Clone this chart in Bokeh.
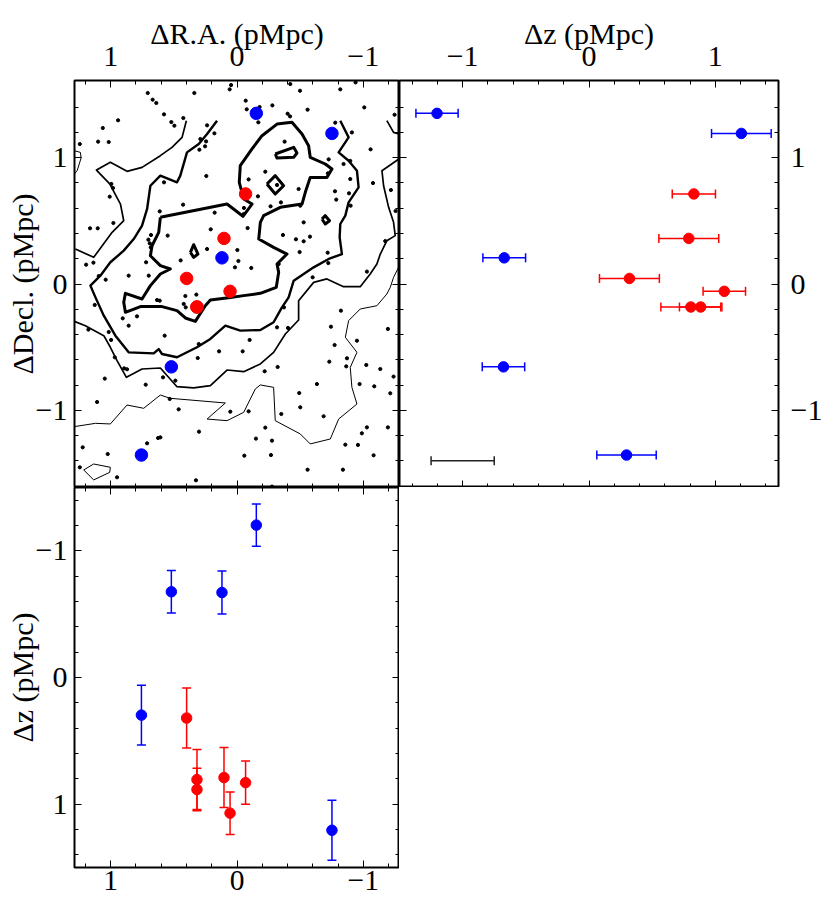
import math
from bokeh.plotting import figure
from bokeh.models import Range1d, LinearAxis, FixedTicker
from bokeh.layouts import row, column
from bokeh.embed import file_html
from bokeh.resources import INLINE

# ---------------- data ----------------
# cluster members: offsets in pMpc
member_ra = [-0.153, -0.752, 0.119, 0.520, 0.757, -0.068, 0.103, 0.399, 0.055, 0.317, 0.317]
member_dec = [1.351, 1.192, 0.207, -0.656, -1.354, 0.713, 0.361, 0.044, -0.058, -0.182, -0.182]
member_dz = [-1.203, 1.206, -0.671, -0.677, 0.297, 0.830, 0.790, 0.320, 1.071, 0.806, 0.884]
member_dz_err = [0.167, 0.236, 0.169, 0.168, 0.235, 0.171, 0.237, 0.237, 0.168, 0.237, 0.168]
member_color = ["#0000ff", "#0000ff", "#0000ff", "#0000ff", "#0000ff",
                "#ff0000", "#ff0000", "#ff0000", "#ff0000", "#ff0000", "#ff0000"]

# typical (reference) error bar shown in the Δz–ΔDecl. panel
typical_dz = [-1.0]
typical_dz_err = [0.25]
typical_dec = [-1.40]

# background field galaxies
dots_ra = [
    0.047, 0.058, -0.422, -0.939, 0.707, 0.668, 0.639, 0.338, -0.499, -0.818,
    -0.069, -0.179, -0.280, -1.008, -0.559, -0.401, -0.420, 0.578, 0.425, 0.520,
    0.496, 0.942, -1.248, 1.063, -0.778, -0.910, 0.237, 0.179, 0.290, 0.245,
    0.298, 0.253, 1.100, 1.016, 1.245, -1.058, -0.726, -0.844, -0.897, -0.224,
    -0.720, -0.897, 0.243, 0.578, 0.995, 0.982, -0.092, 1.008, -0.166, -0.488,
    -0.776, -0.887, -1.077, -0.348, -0.266, -0.501, -0.786, -0.900, 0.427, -0.055,
    -0.053, 0.177, -1.256, 0.979, 1.164, 1.103, -0.084, 0.208, 0.549, 0.681,
    0.702, 0.691, 0.683, -0.364, -0.467, -0.528, -0.578, -1.174, -0.003, -0.496,
    -0.718, 0.446, 0.720, -0.011, 0.016, -0.113, -0.330, -0.723, 1.195, 1.137,
    -1.029, 0.858, 1.040, -0.599, 1.095, 0.322, 0.409, 0.422, 0.406, 0.633,
    0.612, 1.127, 0.792, 0.905, -0.372, 0.858, 1.177, -0.404, -0.317, -0.823,
    -1.195, -0.744, 0.573, 1.016, 0.997, 0.968, 0.303, 0.142, -0.045, -0.773,
    -0.950, 0.311, 0.894, 0.871, -0.871, -0.865, -0.731, -0.322, -1.024, -1.135,
    -0.219, -1.240, 1.047, 0.586, 0.723, 0.488, -0.633, -0.971, -1.087, -0.493,
    -1.214, 1.108, 0.533, 0.462, 0.053, -0.092, -0.501, -0.351, -0.686, -0.224,
    0.301, -1.029, -1.195, -0.989, -0.150, -0.277, 0.625, 0.607, 0.712, 1.222,
    -0.858, -0.958, 1.024, -0.058, -0.269, -1.082, 1.245, 0.950, 0.325, -0.559,
    -0.839, -0.277, 0.612, 0.237, 0.699, -0.377, -0.317, -1.219, -0.528, -0.100,
    -0.077, -0.169,
]
dots_dec = [
    1.575, 1.541, 1.583, 1.596, 1.512, 1.459, 1.433, 1.512, 1.530, 1.541,
    1.451, 1.401, 1.414, 1.398, 1.380, 1.348, 1.327, 1.343, 1.314, 1.282,
    1.253, 1.296, 1.340, 1.235, 1.277, 1.200, 1.256, 1.193, 1.148, 1.129,
    1.063, 1.090, 1.127, 1.124, 1.108, 1.066, 0.987, 0.950, 0.974, 0.889,
    0.876, 0.831, 0.855, 0.805, 0.792, 0.760, 0.828, 0.691, 0.694, 0.752,
    0.734, 0.718, 0.799, 0.646, 0.615, 0.620, 0.668, 0.620, 0.628, 0.602,
    0.554, 0.565, 0.578, 0.483, 0.441, 0.441, 0.443, 0.433, 0.383, 0.388,
    0.351, 0.322, 0.290, 0.388, 0.354, 0.338, 0.375, 0.340, 0.269, 0.253,
    0.248, 0.187, 0.172, 0.182, 0.132, 0.127, 0.158, 0.166, 0.153, 0.169,
    0.098, 0.066, 0.034, 0.053, 0.063, -0.084, -0.095, -0.158, -0.185, -0.127,
    -0.132, -0.166, -0.256, -0.272, -0.185, -0.330, -0.361, -0.348, -0.343, -0.211,
    -0.356, -0.338, -0.409, -0.380, -0.443, -0.580, -0.475, -0.533, -0.533, -0.483,
    -0.449, -0.586, -0.668, -0.675, -0.588, -0.652, -0.615, -0.657, -0.641, -0.673,
    -0.691, -0.733, -0.749, -0.739, -0.797, -0.765, -0.792, -0.792, -0.810, -0.863,
    -0.865, -0.934, -0.910, -0.992, -1.011, -1.008, -0.976, -1.029, -1.047, -1.137,
    -1.169, -1.135, -1.135, -1.182, -1.224, -1.240, -1.219, -1.214, -1.261, -1.293,
    -1.272, -1.274, -1.346, -1.359, -1.354, -1.356, -1.451, -1.530, -1.554, -1.470,
    -1.470, -1.604, 0.575, 0.277, 0.066, 1.127, 0.784, 0.744, 0.488, -0.443,
    1.383, 1.280,
]

# density contours (four levels, lowest first)
level1_ra = [
    [-1.282, -1.240, -1.214, -1.187, -1.108, -0.976, -0.884, -0.858, -0.950, -0.897,
     -0.910, -0.950, -0.805, -0.739, -0.580, -0.501, -0.303, -0.290, -0.185, -0.145,
     -0.053, 0.053, 0.079, 0.237, 0.092, 0.528, 0.607, 0.739, 0.871, 1.003,
     1.121, 1.288],
    [1.214, 1.135, 1.003, 1.008, 1.135, 1.214],
    [1.288, 1.240, 1.235, 1.266, 1.288],
]
level1_dec = [
    [0.137, 0.053, -0.026, -0.079, -0.172, -0.198, -0.290, -0.422, -0.541, -0.660,
     -0.818, -0.950, -1.069, -1.227, -1.266, -1.187, -1.082, -0.818, -0.799, -0.831,
     -1.016, -1.069, -1.082, -1.069, -0.942, -0.905, -0.879, -0.984, -0.958, -1.108,
     -1.103, -1.129],
    [-1.472, -1.425, -1.451, -1.491, -1.551, -1.472],
    [1.055, 1.042, 0.997, 0.897, 0.871],
]
level2_ra = [
    [0.401, 0.435, 0.515, 0.607, 0.752, 0.871, 1.003, 1.113, 1.008, 0.923,
     0.897, 0.989, 1.135, 1.280],
    [-1.282, -1.148, -1.161, -1.201, -1.240, -1.253, -1.187, -1.135, -1.108, -1.055,
     -0.976, -0.844, -0.712, -0.607, -0.488, -0.488, -0.383, -0.290, -0.185, -0.053,
     0.079, 0.211, 0.343, 0.475, 0.607, 0.752, 0.876, 0.950, 1.003, 1.055,
     1.201, 1.288],
    [-1.187, -1.240, -1.282],
]
level2_dec = [
    [1.293, 1.161, 1.082, 1.016, 0.923, 0.892, 0.963, 0.902, 0.792, 0.633,
     0.501, 0.409, 0.211, 0.277],
    [0.989, 0.897, 0.778, 0.607, 0.488, 0.383, 0.343, 0.237, 0.158, 0.079,
     -0.021, -0.021, 0.040, 0.013, -0.132, -0.285, -0.396, -0.541, -0.633, -0.694,
     -0.681, -0.805, -0.823, -0.813, -0.665, -0.673, -0.739, -0.607, -0.501, -0.409,
     -0.330, -0.296],
    [1.293, 1.200, 1.187],
]
level3_ra = [
    [0.158, 0.237, 0.303, 0.396, 0.449, 0.475, 0.607, 0.686, 0.712, 0.752,
     0.818, 0.897, 1.003, 1.082, 1.161, 1.121, 1.055, 0.963, 0.858, 0.660,
     0.620, 0.594, 0.475, 0.317, 0.211, 0.092, -0.026, -0.185, -0.290, -0.356,
     -0.409, -0.449, -0.607, -0.726, -0.831, -0.813, -0.818, -0.858, -0.884, -0.963,
     -0.950, -0.884, -0.805, -0.884, -0.818],
]
level3_dec = [
    [1.293, 1.187, 1.108, 1.042, 0.858, 0.805, 0.858, 0.778, 0.594, 0.462,
     0.356, 0.264, 0.172, 0.066, -0.013, -0.106, -0.251, -0.409, -0.541, -0.549,
     -0.515, -0.554, -0.580, -0.501, -0.435, -0.330, -0.369, -0.364, -0.303, -0.185,
     -0.106, 0.026, 0.132, 0.198, 0.237, 0.369, 0.475, 0.541, 0.646, 0.765,
     0.897, 0.976, 1.042, 1.161, 1.293],
]
level4_ra = [
    [0.607, 0.079, -0.047, -0.119, -0.053, -0.018, -0.026, -0.119, -0.198, -0.317,
     -0.435, -0.515, -0.567, -0.580, -0.699, -0.752, -0.712, -0.580, -0.541, -0.515,
     -0.343, -0.211, -0.185, -0.172, -0.290, -0.396, -0.317, -0.330, -0.311, -0.185,
     -0.053, 0.053, 0.211, 0.251, 0.330, 0.409, 0.475, 0.594, 0.765, 0.884,
     0.897, 0.884, 0.752, 0.686, 0.607, 0.528, 0.607, 0.686, 0.673, 0.620,
     0.607],
    [-0.303, -0.449, -0.475, -0.449, -0.317, -0.303],
    [-0.237, -0.303, -0.369, -0.303, -0.237],
    [-0.673, -0.699, -0.733, -0.699, -0.673],
    [0.369, 0.343, 0.309, 0.343, 0.369],
]
level4_dec = [
    [0.528, 0.633, 0.536, 0.633, 0.673, 0.805, 0.937, 1.069, 1.174, 1.266,
     1.280, 1.187, 1.095, 1.003, 0.950, 0.910, 0.844, 0.844, 0.726, 0.633,
     0.607, 0.541, 0.488, 0.356, 0.290, 0.237, 0.158, 0.092, -0.026, -0.074,
     -0.092, -0.106, -0.127, -0.172, -0.296, -0.269, -0.211, -0.179, -0.179, -0.224,
     -0.145, -0.074, -0.119, -0.013, 0.079, 0.119, 0.145, 0.224, 0.303, 0.409,
     0.528],
    [1.029, 1.082, 1.037, 1.003, 0.997, 1.029],
    [0.792, 0.858, 0.778, 0.712, 0.792],
    [0.515, 0.541, 0.501, 0.475, 0.515],
    [0.251, 0.311, 0.237, 0.211, 0.251],
]

# axes
major_ticks = [-1, 0, 1]
minor_ticks = [-1.4, -1.2, -0.8, -0.6, -0.4, -0.2, 0.2, 0.4, 0.6, 0.8, 1.2, 1.4]
tick_labels = ["\u22121", "0", "1"]
label_ra = "\u0394R.A. (pMpc)"
label_dec = "\u0394Decl. (pMpc)"
label_dz = "\u0394z (pMpc)"

ra_lim = 1.287
dec_lim = 1.611
dz_lim = 1.5

# ---------------- styling helpers ----------------
FONT = "Liberation Serif"
TICK_FONT_SIZE = "30px"
TITLE_FONT_SIZE = "30px"


def setup_axis(ax, loc, show_labels, standoff=6, title=None, title_standoff=0,
               font_size=TICK_FONT_SIZE):
    if loc is not None:
        ax.fixed_location = loc
    ax.ticker = FixedTicker(ticks=major_ticks, minor_ticks=minor_ticks)
    ax.axis_line_color = None
    ax.major_tick_in = 7
    ax.major_tick_out = 0
    ax.minor_tick_in = 4
    ax.minor_tick_out = 0
    ax.major_tick_line_color = "black"
    ax.minor_tick_line_color = "black"
    ax.major_tick_line_width = 1
    ax.minor_tick_line_width = 1
    ax.major_label_overrides = {t: (lab if show_labels else "")
                                for t, lab in zip(major_ticks, tick_labels)}
    ax.major_label_text_font = FONT
    ax.major_label_text_font_size = font_size
    ax.major_label_text_color = "black"
    ax.major_label_standoff = standoff
    if title:
        ax.axis_label = title
        ax.axis_label_text_font = FONT
        ax.axis_label_text_font_size = TITLE_FONT_SIZE
        ax.axis_label_text_font_style = "normal"
        ax.axis_label_text_color = "black"
        ax.axis_label_standoff = title_standoff


def make_fig(xr, yr, fw, fh, bl, bt, br, bb):
    p = figure(x_range=xr, y_range=yr, frame_width=fw, frame_height=fh,
               min_border_left=bl, min_border_top=bt,
               min_border_right=br, min_border_bottom=bb,
               toolbar_location=None, tools="", output_backend="svg")
    p.grid.visible = False
    p.outline_line_color = "black"
    p.outline_line_width = 2
    p.background_fill_color = "white"
    p.border_fill_color = "white"
    return p


# ---------------- panel A: sky map ----------------
pa = make_fig(Range1d(ra_lim, -ra_lim), Range1d(-dec_lim, dec_lim), 325, 407, 74, 80, 0, 0)
setup_axis(pa.xaxis[0], -dec_lim, False)
setup_axis(pa.yaxis[0], None, True, standoff=7, title=label_dec, title_standoff=-6)
ax_top = LinearAxis()
pa.add_layout(ax_top, "above")
setup_axis(ax_top, None, True, standoff=15, title=label_ra, title_standoff=-6)
ax_right = LinearAxis()
pa.add_layout(ax_right, "right")
setup_axis(ax_right, -ra_lim, False)

for xs, ys, w in [(level1_ra, level1_dec, 1.0), (level2_ra, level2_dec, 1.7),
                  (level3_ra, level3_dec, 2.4), (level4_ra, level4_dec, 3.0)]:
    pa.multi_line(xs=xs, ys=ys, line_color="black", line_width=w, line_join="round")
pa.scatter(dots_ra, dots_dec, size=3.2, color="black")
pa.scatter(member_ra, member_dec, size=12.5, color=member_color)

# ---------------- panel B: dz vs Dec ----------------
dz_lo = [d - e for d, e in zip(member_dz, member_dz_err)]
dz_hi = [d + e for d, e in zip(member_dz, member_dz_err)]
typ_lo = [d - e for d, e in zip(typical_dz, typical_dz_err)]
typ_hi = [d + e for d, e in zip(typical_dz, typical_dz_err)]

pb = make_fig(Range1d(-dz_lim, dz_lim), Range1d(-dec_lim, dec_lim), 379, 407, 0, 80, 46, 0)
setup_axis(pb.xaxis[0], -dec_lim, False)
setup_axis(pb.yaxis[0], -dz_lim, False)
bx_top = LinearAxis()
pb.add_layout(bx_top, "above")
setup_axis(bx_top, None, True, standoff=15, title=label_dz, title_standoff=-6)
by_right = LinearAxis()
pb.add_layout(by_right, "right")
setup_axis(by_right, None, True, standoff=12)

pb.segment(x0=typ_lo, y0=typical_dec, x1=typ_hi, y1=typical_dec, line_color="#222222", line_width=1.5)
pb.scatter(typ_lo + typ_hi, typical_dec + typical_dec, marker="dash", angle=math.pi / 2,
           size=9, line_color="#222222", line_width=1.5)
pb.segment(x0=dz_lo, y0=member_dec, x1=dz_hi, y1=member_dec, line_color=member_color, line_width=1.5)
pb.scatter(dz_lo + dz_hi, member_dec + member_dec, marker="dash", angle=math.pi / 2,
           size=9, line_color=member_color + member_color, line_width=1.5)
pb.scatter(member_dz, member_dec, size=10.5, color=member_color)

# ---------------- panel C: RA vs dz ----------------
pc = make_fig(Range1d(ra_lim, -ra_lim), Range1d(dz_lim, -dz_lim), 325, 380, 74, 0, 0, 35)
setup_axis(pc.xaxis[0], None, True, standoff=3, font_size="29.5px")
setup_axis(pc.yaxis[0], None, True, standoff=7, title=label_dz, title_standoff=-6)
cx_top = LinearAxis()
pc.add_layout(cx_top, "above")
setup_axis(cx_top, -dz_lim, False)
cy_right = LinearAxis()
pc.add_layout(cy_right, "right")
setup_axis(cy_right, -ra_lim, False)

pc.segment(x0=member_ra, y0=dz_lo, x1=member_ra, y1=dz_hi, line_color=member_color, line_width=1.5)
pc.scatter(member_ra + member_ra, dz_lo + dz_hi, marker="dash", size=9,
           line_color=member_color + member_color, line_width=1.5)
pc.scatter(member_ra, member_dz, size=10.5, color=member_color)

layout = column(row(pa, pb), pc)
open("out.html", "w").write(file_html(layout, INLINE))
